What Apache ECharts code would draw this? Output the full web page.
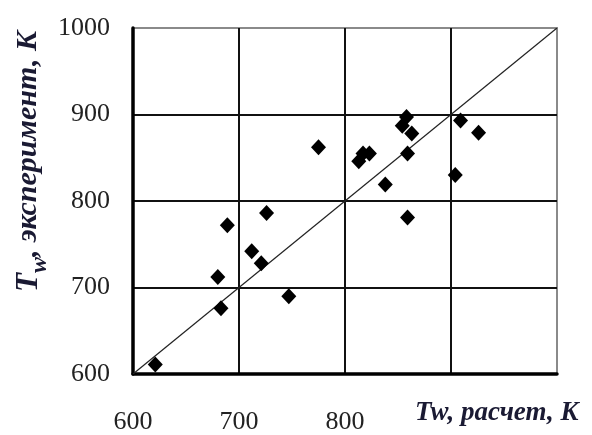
<!DOCTYPE html>
<html>
<head>
<meta charset="utf-8">
<script src="https://cdn.jsdelivr.net/npm/echarts@6/dist/echarts.min.js"></script>
<style>
  html, body { margin: 0; padding: 0; background: #fff; }
  #chart { width: 592px; height: 435px; }
</style>
</head>
<body>
<div id="chart"></div>
<script>
// расчет (x) / эксперимент (y), K
var calcT = [621, 683, 680, 689, 712, 721, 726, 747, 775, 813, 817, 823, 838, 854, 858, 859, 859, 863, 904, 909, 926];
var expT  = [611, 676, 712, 772, 742, 728, 786, 690, 862, 846, 855, 855, 819, 887, 897, 855, 781, 878, 830, 893, 879];
var xTickLabels = ['600', '700', '800', '', ''];
var yTickLabels = ['600', '700', '800', '900', '1000'];
var lineEnds = [600, 1000];

var points = calcT.map(function (x, i) { return [x, expT[i]]; });
var diag = lineEnds.map(function (v) { return [v, v]; });

function axisBase(labels, margin) {
  return {
    type: 'value',
    min: 600,
    max: 1000,
    interval: 100,
    axisLine: { show: true, lineStyle: { color: '#000', width: 3.5 } },
    axisTick: { show: false },
    splitLine: { show: true, showMaxLine: false, lineStyle: { color: '#111', width: 2 } },
    axisLabel: {
      margin: margin,
      color: '#222',
      fontFamily: 'Liberation Serif',
      fontSize: 26,
      formatter: function (v) { return labels[Math.round((v - 600) / 100)]; }
    }
  };
}

var myChart = echarts.init(document.getElementById('chart'));
myChart.setOption({
  animation: false,
  grid: {
    left: 133, right: 35, top: 28, bottom: 57,
    show: true, borderColor: '#8a8a8a', borderWidth: 2
  },
  xAxis: axisBase(xTickLabels, 35),
  yAxis: axisBase(yTickLabels, 23),
  graphic: [
    {
      // подпись оси Y
      type: 'text',
      x: 44, y: 292,
      rotation: Math.PI / 2,
      style: {
        text: '{t|T}{s|w}{r|, эксперимент, K}',
        textAlign: 'left',
        textVerticalAlign: 'bottom',
        fill: '#1a1a33',
        rich: {
          t: { fontFamily: 'Liberation Serif', fontStyle: 'italic', fontWeight: 'bold', fontSize: 31, lineHeight: 31 },
          s: { fontFamily: 'Liberation Serif', fontStyle: 'italic', fontWeight: 'bold', fontSize: 24, lineHeight: 24, padding: [22, 0, 0, 0] },
          r: { fontFamily: 'Liberation Serif', fontStyle: 'italic', fontWeight: 'bold', fontSize: 30, lineHeight: 30 }
        }
      }
    },
    {
      // подпись оси X
      type: 'text',
      x: 415, y: 413,
      style: {
        text: 'Tw, расчет, K',
        textAlign: 'left',
        textVerticalAlign: 'middle',
        fill: '#1a1a33',
        fontFamily: 'Liberation Serif',
        fontStyle: 'italic',
        fontWeight: 'bold',
        fontSize: 27
      }
    }
  ],
  series: [
    {
      type: 'line',
      data: diag,
      symbol: 'none',
      lineStyle: { color: '#222', width: 1.2 },
      z: 2
    },
    {
      type: 'scatter',
      data: points,
      symbol: 'diamond',
      symbolSize: [15, 16],
      itemStyle: { color: '#000', opacity: 1 },
      z: 3
    }
  ]
});
</script>
</body>
</html>
